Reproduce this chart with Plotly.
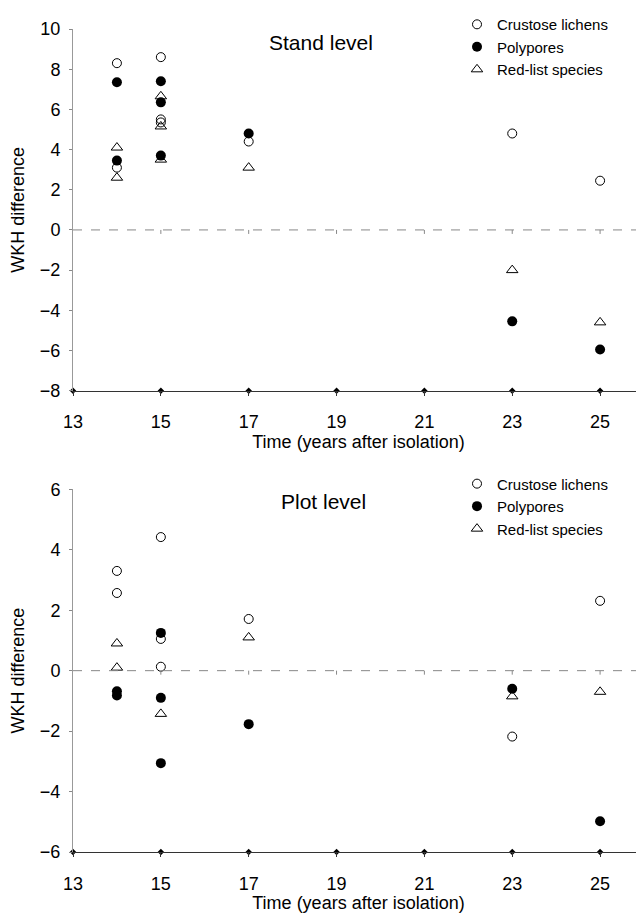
import plotly.graph_objects as go

# ---- data ----
stand_lichens_x = [14, 14, 15, 15, 15, 17, 23, 25]
stand_lichens_y = [8.3, 3.1, 8.6, 5.5, 5.35, 4.4, 4.8, 2.45]
stand_polypores_x = [14, 14, 15, 15, 15, 17, 23, 25]
stand_polypores_y = [7.35, 3.45, 7.4, 6.35, 3.7, 4.8, -4.55, -5.95]
stand_redlist_x = [14, 14, 15, 15, 15, 17, 23, 25]
stand_redlist_y = [4.1, 2.6, 6.65, 5.15, 3.5, 3.1, -2.0, -4.6]

plot_lichens_x = [14, 14, 15, 15, 15, 17, 23, 25]
plot_lichens_y = [3.3, 2.57, 4.42, 1.05, 0.13, 1.71, -2.18, 2.31]
plot_polypores_x = [14, 14, 15, 15, 15, 17, 23, 25]
plot_polypores_y = [-0.68, -0.82, 1.25, -0.9, -3.06, -1.77, -0.6, -4.98]
plot_redlist_x = [14, 14, 15, 17, 23, 25]
plot_redlist_y = [0.9, 0.1, -1.43, 1.1, -0.85, -0.7]

x_ticks = [13, 15, 17, 19, 21, 23, 25]
stand_y_ticks = [10, 8, 6, 4, 2, 0, -2, -4, -6, -8]
plot_y_ticks = [6, 4, 2, 0, -2, -4, -6]

series_names = ["Crustose lichens", "Polypores", "Red-list species"]
FONT = "Liberation Sans, Arial, Helvetica, sans-serif"

# the page body adds an 8px margin, so the figure is 8px smaller than the window
OFF = 8
W, H = 644 - OFF, 913 - OFF
ml, mt, mr = 73 - OFF, 26 - OFF, 0
mb = H - (852 - OFF)
plot_h = H - mt - mb


def py(pix):  # window pixel row -> paper y
    return (H - mb - (pix - OFF)) / plot_h


def px(pix):  # window pixel column -> paper x
    return (pix - OFF - ml) / (W - ml - mr)


fig = go.Figure()

styles = [
    dict(symbol="circle-open", size=9, color="black", line=dict(width=1, color="black")),
    dict(symbol="circle", size=10, color="black"),
    dict(symbol="triangle-up-open", size=10, color="black", line=dict(width=1, color="black")),
]

panels = [
    ("x", "y", "legend", [(stand_lichens_x, stand_lichens_y), (stand_polypores_x, stand_polypores_y),
                          (stand_redlist_x, stand_redlist_y)], min(stand_y_ticks)),
    ("x2", "y2", "legend2", [(plot_lichens_x, plot_lichens_y), (plot_polypores_x, plot_polypores_y),
                             (plot_redlist_x, plot_redlist_y)], min(plot_y_ticks)),
]

shapes = []
for xa, ya, leg, series, ymin in panels:
    for name, st, (xs, ys) in zip(series_names, styles, series):
        fig.add_trace(go.Scatter(x=xs, y=ys, mode="markers", name=name, marker=st,
                                 xaxis=xa, yaxis=ya, legend=leg, cliponaxis=False))
    # small dots on the bottom axis line at each tick
    fig.add_trace(go.Scatter(x=x_ticks, y=[ymin] * len(x_ticks), mode="markers",
                             marker=dict(symbol="diamond", size=5, color="black"),
                             xaxis=xa, yaxis=ya, showlegend=False, cliponaxis=False,
                             hoverinfo="skip"))
    # dashed zero line
    shapes.append(dict(type="line", xref=f"{xa} domain", yref=ya, x0=0, x1=1, y0=0, y1=0,
                       line=dict(color="#888", width=1, dash="dash")))
    # small tick marks hanging below the dashed zero line
    for t in x_ticks[1:]:
        shapes.append(dict(type="line", xref=xa, yref=ya, x0=t, x1=t, ysizemode="pixel",
                           yanchor=0, y0=0, y1=-4, line=dict(color="#888", width=1)))

top_dom = [py(389), 1.0]
bot_dom = [0.0, py(488)]

xcommon = dict(range=[13, 26], tickvals=x_ticks, ticks="outside", ticklen=4, tickcolor="#333",
               showline=True, linecolor="#333", linewidth=1, showgrid=False, zeroline=False,
               tickfont=dict(family=FONT, size=18, color="black"), ticklabelstandoff=11,
               title=dict(text="Time (years after isolation)", standoff=0,
                          font=dict(family=FONT, size=18, color="black")))
ycommon = dict(ticks="outside", ticklen=3, tickcolor="#888", showline=True, linecolor="#999",
               linewidth=1, showgrid=False, zeroline=False,
               tickfont=dict(family=FONT, size=18, color="black"), ticklabelstandoff=5,
               title=dict(text="WKH difference", standoff=10,
                          font=dict(family=FONT, size=18, color="black")))

legcommon = dict(xanchor="left", yanchor="top", bgcolor="rgba(0,0,0,0)",
                 font=dict(family=FONT, size=15, color="black"), tracegroupgap=0, itemwidth=30)

fig.update_layout(
    width=W, height=H,
    margin=dict(t=mt, b=mb, l=ml, r=mr),
    paper_bgcolor="white", plot_bgcolor="white",
    font=dict(family=FONT, color="black"),
    xaxis=dict(domain=[0, 1], anchor="y", **xcommon),
    yaxis=dict(domain=top_dom, anchor="x", range=[-8, 10], tickvals=stand_y_ticks, **ycommon),
    xaxis2=dict(domain=[0, 1], anchor="y2", **xcommon),
    yaxis2=dict(domain=bot_dom, anchor="x2", range=[-6, 6], tickvals=plot_y_ticks, **ycommon),
    legend=dict(x=px(457), y=py(5), **legcommon),
    legend2=dict(x=px(457), y=py(466), **legcommon),
    shapes=shapes,
    annotations=[
        dict(text="Stand level", x=px(321), y=py(40), xref="paper", yref="paper",
             xanchor="center", yanchor="middle",
             showarrow=False, font=dict(family=FONT, size=21, color="black")),
        dict(text="Plot level", x=px(323), y=py(500), xref="paper", yref="paper",
             xanchor="center", yanchor="middle",
             showarrow=False, font=dict(family=FONT, size=21, color="black")),
    ],
)

fig.write_html("out.html")
